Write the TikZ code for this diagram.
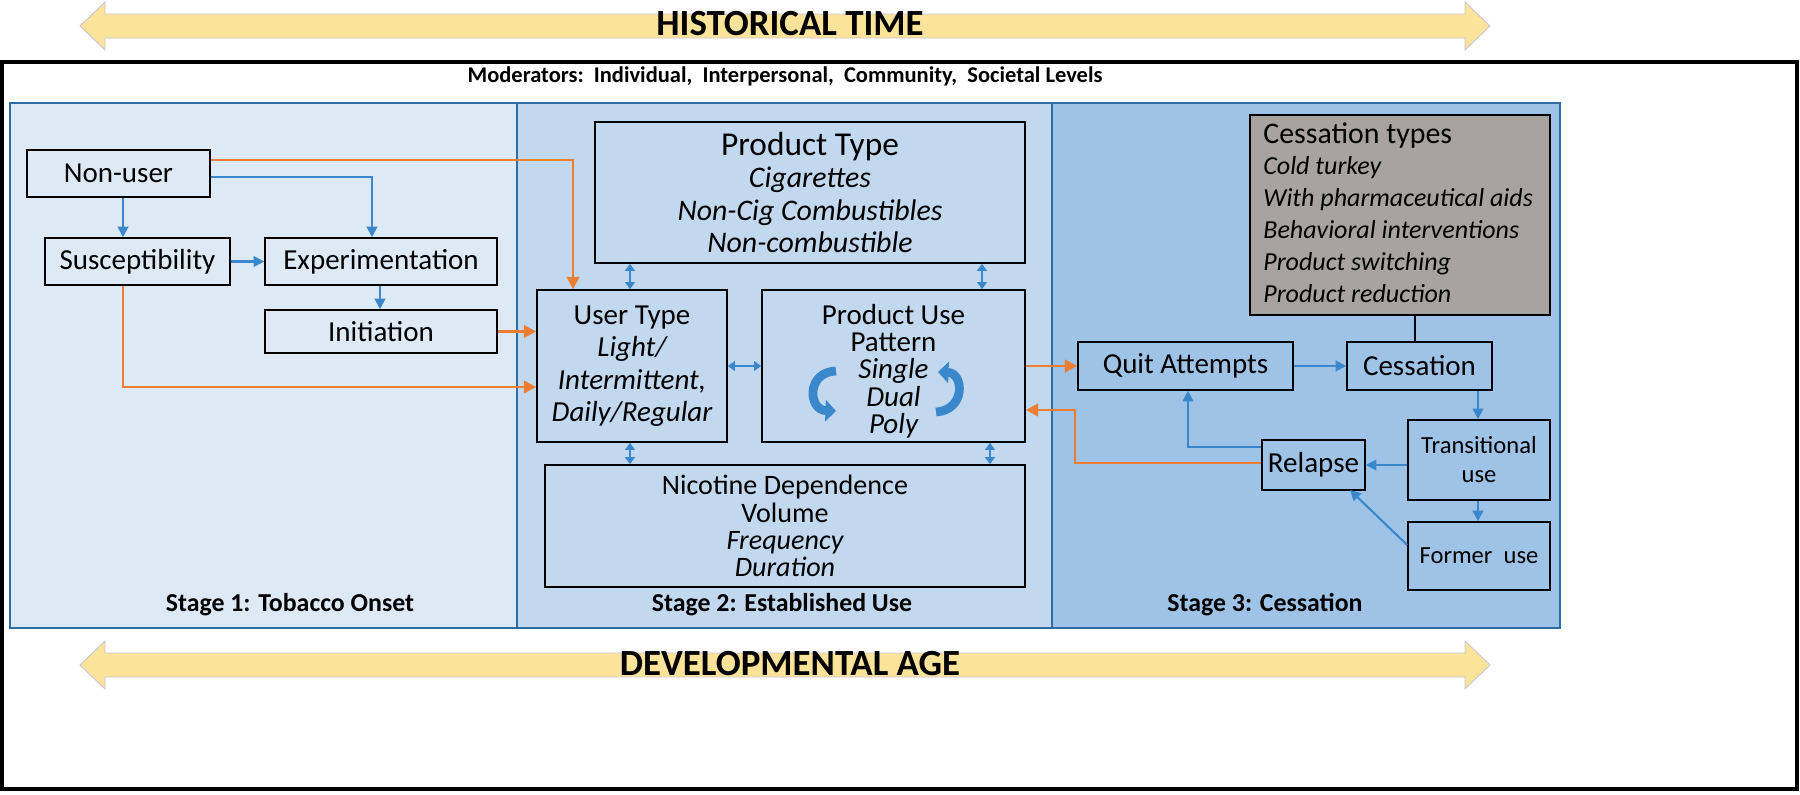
\documentclass[tikz,border=0pt]{standalone}
\usepackage{fontspec}
\setmainfont{Carlito}
\usetikzlibrary{arrows.meta}
\definecolor{sone}{HTML}{DDE9F5}
\definecolor{stwo}{HTML}{C2D8EE}
\definecolor{sthree}{HTML}{9EC3E6}
\definecolor{pborder}{HTML}{2E6DA4}
\definecolor{blu}{HTML}{3A87CC}
\definecolor{org}{HTML}{ED7D31}
\definecolor{ylw}{HTML}{FBE39A}
\definecolor{ylwb}{HTML}{C9C3D8}
\definecolor{gry}{HTML}{A8A3A1}
\tikzset{
 box/.style={draw=black,line width=0.9pt,align=center,inner sep=2pt,font=\fontsize{16.5}{18.5}\selectfont},
 bl/.style={draw=blu,line width=1.2pt,-{Triangle[length=6pt,width=6pt]}},
 bld/.style={draw=blu,line width=1.2pt,{Triangle[length=4pt,width=5.5pt]}-{Triangle[length=4pt,width=5.5pt]}},
 or/.style={draw=org,line width=1.6pt,-{Triangle[length=7pt,width=7pt]}},
 panel/.style={draw=pborder,line width=0.8pt},
 stlab/.style={font=\bfseries\fontsize{14.7}{16}\selectfont},
 yarrow/.style={fill=ylw,draw=ylwb,line width=0.5pt},
 ytext/.style={font=\bfseries\fontsize{21}{23}\selectfont},
 circ/.style={blu,line width=5pt,-{Triangle[length=6pt,width=12pt]}}
}
\begin{document}
\begin{tikzpicture}[x=0.02cm,y=-0.02cm]
\useasboundingbox (0,0) rectangle (1800,795);
\fill[white] (0,0) rectangle (1800,795);
% top arrow
\path[yarrow] (80,26) -- (105,2) -- (105,14) -- (1465,14) -- (1465,2) -- (1490,26) -- (1465,50) -- (1465,38) -- (105,38) -- (105,50) -- cycle;
\node[ytext] (ht) at (790,24) {HISTORICAL TIME};
% outer
\draw[line width=2.5pt] (2,62) rectangle (1797,789);
\node[font=\bfseries\fontsize{12.8}{14}\selectfont] (mod) at (785,76) {Moderators:\ \ Individual,\ \ Interpersonal,\ \ Community,\ \ Societal Levels};
% panels
\path[panel,fill=sone] (10,103) rectangle (517,628);
\path[panel,fill=stwo] (517,103) rectangle (1052,628);
\path[panel,fill=sthree] (1052,103) rectangle (1560,628);
\node[stlab] (s1) at (290,605) {Stage 1: Tobacco Onset};
\node[stlab] (s2) at (782,605) {Stage 2: Established Use};
\node[stlab] (s3) at (1265,605) {Stage 3: Cessation};
% bottom arrow
\path[yarrow] (80,665) -- (105,641) -- (105,653) -- (1465,653) -- (1465,641) -- (1490,665) -- (1465,689) -- (1465,677) -- (105,677) -- (105,689) -- cycle;
\node[ytext] (da) at (790,664) {DEVELOPMENTAL AGE};
% boxes
\node[box,minimum width=183*0.02cm,minimum height=47*0.02cm] (nu) at (118.5,173.5) {Non-user};
\node[box,minimum width=185*0.02cm,minimum height=47*0.02cm] (su) at (137.5,261.5) {Susceptibility};
\node[box,minimum width=232*0.02cm,minimum height=47*0.02cm] (ex) at (381,261.5) {Experimentation};
\node[box,minimum width=232*0.02cm,minimum height=43*0.02cm] (in) at (381,331.5) {Initiation};
\node[box,minimum width=430*0.02cm,minimum height=141*0.02cm,font=\fontsize{17}{18.5}\selectfont] (pt) at (810,192.5) {{\fontsize{19}{19}\selectfont Product Type}\\\itshape Cigarettes\\\itshape Non-Cig Combustibles\\\itshape Non-combustible};
\node[box,minimum width=190*0.02cm,minimum height=152*0.02cm] (ut) at (632,366) {User Type\\\itshape Light/\\\itshape Intermittent,\\\itshape Daily/Regular};
\node[box,minimum width=263*0.02cm,minimum height=152*0.02cm] (pu) at (893.5,366) {};
\node[font=\fontsize{16.5}{15.5}\selectfont,align=center,anchor=north] (put) at (893.5,298) {Product Use\\Pattern\\\itshape Single\\\itshape Dual\\\itshape Poly};
\node[box,minimum width=480*0.02cm,minimum height=122*0.02cm,font=\fontsize{16}{15.5}\selectfont] (nd) at (785,526) {Nicotine Dependence\\Volume\\\itshape Frequency\\\itshape Duration};
\node[draw=black,line width=0.9pt,fill=gry,minimum width=300*0.02cm,minimum height=200*0.02cm] (ct) at (1400,215) {};
\node[anchor=north west,align=left,font=\fontsize{14.8}{18.2}\selectfont,inner sep=0pt] (ctt) at (1263,122) {{\fontsize{17}{18}\selectfont Cessation types}\\\itshape Cold turkey\\\itshape With pharmaceutical aids\\\itshape Behavioral interventions\\\itshape Product switching\\\itshape Product reduction};
\node[box,minimum width=215*0.02cm,minimum height=48*0.02cm] (qa) at (1185.5,366) {Quit Attempts};
\node[box,minimum width=145*0.02cm,minimum height=48*0.02cm] (ce) at (1419.5,366) {Cessation};
\node[box,minimum width=142*0.02cm,minimum height=80*0.02cm,font=\fontsize{14}{16.5}\selectfont] (tu) at (1479,460) {Transitional\\use};
\node[box,minimum width=103*0.02cm,minimum height=50*0.02cm] (rl) at (1313.5,465) {Relapse};
\node[box,minimum width=142*0.02cm,minimum height=68*0.02cm,font=\fontsize{14}{16}\selectfont] (fu) at (1479,556) {Former\ \ use};
% circular arrows
\draw[circ] (836,371) .. controls (806,372) and (808,410) .. (836,411);
\draw[circ] (936,412) .. controls (966,410) and (964,373) .. (938,372);
% blue connectors
\draw[bl] (nu.south -| 123,0) -- (su.north -| 123,0);
\draw[bl] (nu.east |- 0,177) -- (372,177) -- (ex.north -| 372,0);
\draw[bl] (su.east) -- (ex.west);
\draw[bl] (ex.south -| 380,0) -- (in.north -| 380,0);
\draw[bld] (pt.south -| 630,0) -- (ut.north -| 630,0);
\draw[bld] (pt.south -| 982,0) -- (pu.north -| 982,0);
\draw[bld] (ut.east) -- (pu.west);
\draw[bld] (ut.south -| 630,0) -- (nd.north -| 630,0);
\draw[bld] (pu.south -| 990,0) -- (nd.north -| 990,0);
\draw[bl] (qa.east) -- (ce.west);
\draw[bl] (ce.south -| 1478,0) -- (tu.north -| 1478,0);
\draw[bl] (tu.west |- rl.east) -- (rl.east);
\draw[bl] (tu.south -| 1478,0) -- (fu.north -| 1478,0);
\draw[bl] (fu.west |- 0,545) -- (1350,490);
\draw[bl] (rl.west |- 0,447) -- (1188,447) -- (qa.south -| 1188,0);
\draw[line width=1.2pt] (ct.south -| 1415,0) -- (ce.north -| 1415,0);
% orange connectors
\draw[or] (nu.east |- 0,160) -- (573,160) -- (ut.north -| 573,0);
\draw[or] (in.east) -- (ut.west |- in.east);
\draw[or] (su.south -| 123,0) -- (123,387) -- (ut.west |- 0,387);
\draw[or] (pu.east) -- (qa.west);
\draw[or] (rl.west |- 0,463) -- (1075,463) -- (1075,410) -- (pu.east |- 0,410);
\end{tikzpicture}
\end{document}
